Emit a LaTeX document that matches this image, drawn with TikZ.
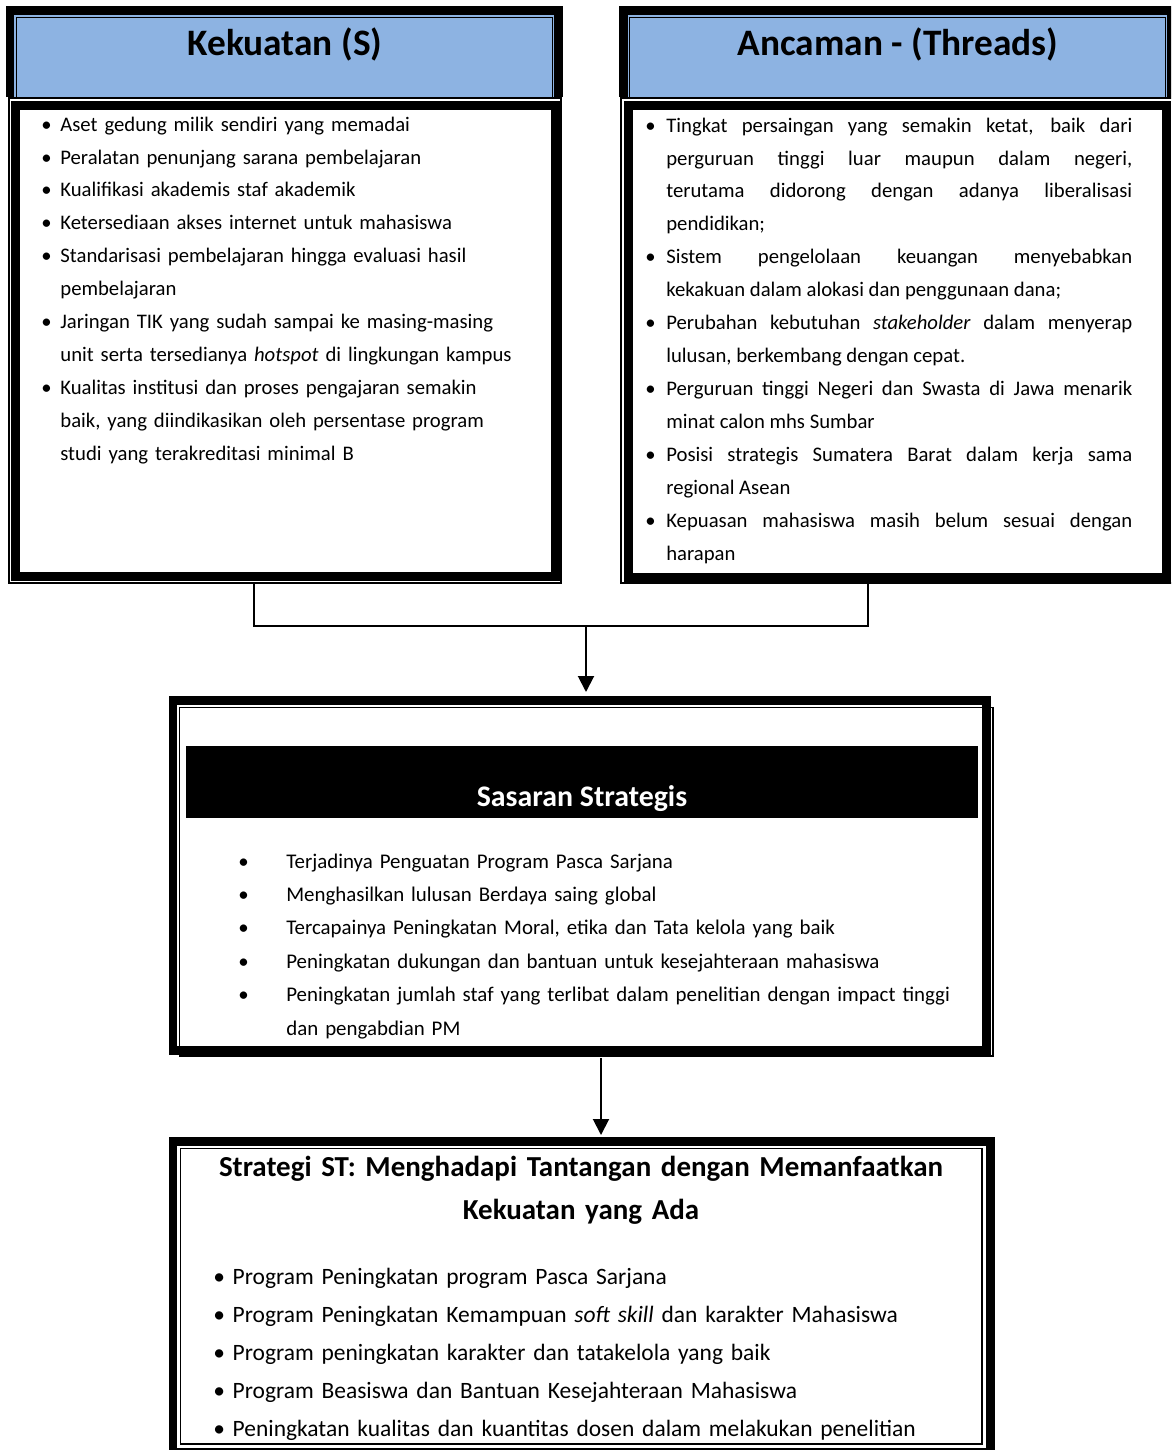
\documentclass[tikz,border=0pt]{standalone}
\usepackage{fontspec}
\setmainfont{Carlito}
\usetikzlibrary{arrows.meta,calc,positioning}
\definecolor{biruKepala}{HTML}{8DB3E2}
\newcommand\butir[2]{\hangindent=#1\hangafter=1\noindent\makebox[#1][l]{\textbullet}#2\par}

\begin{document}
\begin{tikzpicture}[x=0.5625pt,y=-0.5625pt,>=Stealth,
  tebal/.style={line width=5.06pt},
  tipis/.style={line width=0.85pt},
  garis/.style={line width=1.1pt},
  panah/.style={garis,-{Triangle[width=9pt,length=9pt]}},
  judul/.style={font=\fontsize{21pt}{25pt}\selectfont\bfseries,anchor=base,inner sep=0pt},
  isi/.style={anchor=base west,inner sep=0pt,font=\fontsize{11.65pt}{18.56pt}\selectfont}]
\useasboundingbox (0,0) rectangle (1171,1450);
\clip (0,0) rectangle (1171,1450);
% kekuatan
\fill[biruKepala] (14,15) rectangle (554,97);
\draw[tipis] (16.5,17.5) rectangle (552.5,97.5);
\draw[tebal] (10,97) -- (10,10.5) -- (558.5,10.5) -- (558.5,97);
\draw[tipis] (9,98) rectangle (561,583);
\draw[tebal] (15.5,105.5) rectangle (555,576);
% ancaman
\fill[biruKepala] (628,15) rectangle (1167,97);
\draw[tipis] (629.5,17.5) rectangle (1165.5,97.5);
\draw[tebal] (623.5,97) -- (623.5,10.5) -- (1171.5,10.5) -- (1171.5,97);
\draw[tipis] (621,98) rectangle (1175,583);
\draw[tebal] (628,105.5) rectangle (1166.5,577.5);
% sasaran
\draw[tebal] (173,700.5) rectangle (986,1050);
\draw[tipis] (179.5,707.5) rectangle (993,1056);
\fill (186,746) rectangle (978,818);
% strategi
\draw[tebal] (173,1141) rectangle (990.5,1452);
\draw[tipis] (180.5,1148.5) rectangle (982,1444);

\node[judul] (judulKuat) at (285,55) {Kekuatan (S)};
\node[judul] (judulAncam) at (898,55) {Ancaman - (Threads)};
\node[isi,text width=281pt,align=left] (isiKuat) at (41,131) {%
  \butir{10.7pt}{Aset gedung milik sendiri yang memadai}
  \butir{10.7pt}{Peralatan penunjang sarana pembelajaran}
  \butir{10.7pt}{Kualifikasi akademis staf akademik}
  \butir{10.7pt}{Ketersediaan akses internet untuk mahasiswa}
  \butir{10.7pt}{Standarisasi pembelajaran hingga evaluasi hasil\newline pembelajaran}
  \butir{10.7pt}{Jaringan TIK yang sudah sampai ke masing-masing\newline unit serta tersedianya \textit{hotspot} di lingkungan kampus}
  \butir{10.7pt}{Kualitas institusi dan proses pengajaran semakin\newline baik, yang diindikasikan oleh persentase program\newline studi yang terakreditasi minimal B}};
\node[isi,text width=273.9pt,align=justify] (isiAncam) at (645,132) {\tolerance=10000\hbadness=10000%
  \butir{11.8pt}{Tingkat persaingan yang semakin ketat, baik dari\linebreak perguruan tinggi luar maupun dalam negeri,\linebreak terutama didorong dengan adanya liberalisasi\linebreak pendidikan;}
  \butir{11.8pt}{Sistem pengelolaan keuangan menyebabkan\linebreak kekakuan dalam alokasi dan penggunaan dana;}
  \butir{11.8pt}{Perubahan kebutuhan \textit{stakeholder} dalam menyerap\linebreak lulusan, berkembang dengan cepat.}
  \butir{11.8pt}{Perguruan tinggi Negeri dan Swasta di Jawa menarik\linebreak minat calon mhs Sumbar}
  \butir{11.8pt}{Posisi strategis Sumatera Barat dalam kerja sama\linebreak regional Asean}
  \butir{11.8pt}{Kepuasan mahasiswa masih belum sesuai dengan\linebreak harapan}};

\node[anchor=base,inner sep=0pt,text=white,font=\fontsize{16.8pt}{20pt}\selectfont\bfseries] (judulSasaran) at (582,806) {Sasaran Strategis};
\node[isi,text width=406pt,align=left,font=\fontsize{11.75pt}{18.8pt}\selectfont] (isiSasaran) at (238,868) {%
  \butir{27pt}{Terjadinya Penguatan Program Pasca Sarjana}
  \butir{27pt}{Menghasilkan lulusan Berdaya saing global}
  \butir{27pt}{Tercapainya Peningkatan Moral, etika dan Tata kelola yang baik}
  \butir{27pt}{Peningkatan dukungan dan bantuan untuk kesejahteraan mahasiswa}
  \butir{27pt}{Peningkatan jumlah staf yang terlibat dalam penelitian dengan impact tinggi\newline dan pengabdian PM}};

\node[anchor=base,inner sep=0pt,text width=460pt,align=center,font=\fontsize{16.3pt}{24.2pt}\selectfont\bfseries] (judulStrategi) at (581,1176) {Strategi ST: Menghadapi Tantangan dengan Memanfaatkan\\Kekuatan yang Ada};
\node[isi,text width=426pt,align=left,font=\fontsize{13.2pt}{21.5pt}\selectfont] (isiStrategi) at (213,1284) {%
  \butir{10.9pt}{Program Peningkatan program Pasca Sarjana}
  \butir{10.9pt}{Program Peningkatan Kemampuan \textit{soft skill} dan karakter Mahasiswa}
  \butir{10.9pt}{Program peningkatan karakter dan tatakelola yang baik}
  \butir{10.9pt}{Program Beasiswa dan Bantuan Kesejahteraan Mahasiswa}
  \butir{10.9pt}{Peningkatan kualitas dan kuantitas dosen dalam melakukan penelitian}};

% penghubung
\coordinate (kakiKuat) at (254,584);
\coordinate (kakiAncam) at (868,584);
\coordinate (simpang) at (586,626);
\coordinate (atasSasaran) at (586,692);
\coordinate (bawahSasaran) at (601,1058);
\coordinate (atasStrategi) at (601,1135);
\draw[garis] (kakiKuat) |- (simpang) -| (kakiAncam);
\draw[panah] (simpang) -- (atasSasaran);
\draw[panah] (bawahSasaran) -- (atasStrategi);
\end{tikzpicture}
\end{document}
